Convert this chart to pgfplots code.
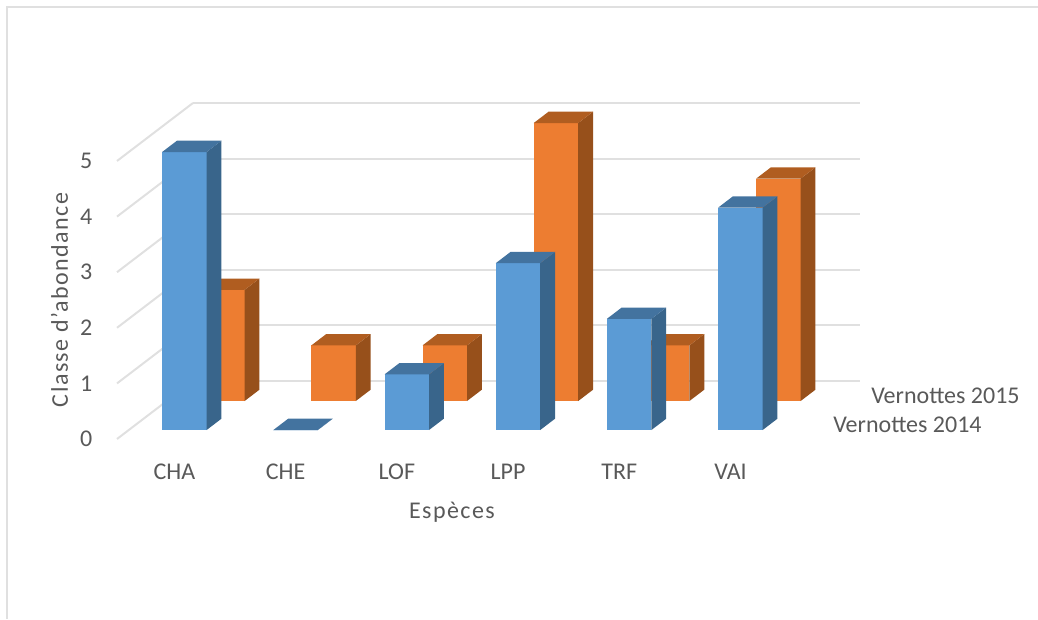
\documentclass[border=0pt]{standalone}
\usepackage{pgfplots}
\pgfplotsset{compat=1.18}
\usepackage{fontspec}
\setmainfont{Carlito}
\definecolor{txt}{HTML}{595959}
\definecolor{gridc}{HTML}{E0E0E0}
\definecolor{frontA}{HTML}{5B9BD5}
\definecolor{sideA}{HTML}{39658B}
\definecolor{topA}{HTML}{43739F}
\definecolor{frontB}{HTML}{ED7D31}
\definecolor{sideB}{HTML}{97501B}
\definecolor{topB}{HTML}{B05D20}

% One box: category index, value, front of row, colours front/side/top
\newcommand{\boxbar}[6]{%
  \pgfmathsetmacro\xa{#1+0.3}\pgfmathsetmacro\xb{#1+0.7}%
  \pgfmathsetmacro\ya{#3}\pgfmathsetmacro\yb{#3+0.195}%
  \edef\temp{%
    \noexpand\addplot3[draw=none,fill=#4,forget plot] coordinates
      {(\xa,\ya,0) (\xb,\ya,0) (\xb,\ya,#2) (\xa,\ya,#2)};
    \noexpand\addplot3[draw=none,fill=#5,forget plot] coordinates
      {(\xb,\ya,0) (\xb,\yb,0) (\xb,\yb,#2) (\xb,\ya,#2)};
    \noexpand\addplot3[draw=none,fill=#6,forget plot] coordinates
      {(\xa,\ya,#2) (\xb,\ya,#2) (\xb,\yb,#2) (\xa,\yb,#2)};
  }\temp}
\newcommand{\barA}[2]{\boxbar{#1}{#2}{0.155}{frontA}{sideA}{topA}}
\newcommand{\barB}[2]{\boxbar{#1}{#2}{0.655}{frontB}{sideB}{topB}}

\begin{document}
\begin{tikzpicture}[x=1pt,y=1pt]
\path[use as bounding box] (0,0) rectangle (778.5,464.25);
\draw[gridc,line width=1.5pt] (4.9,0) -- (4.9,459) -- (778.5,459);
\begin{axis}[
  at={(87.75pt,135pt)}, anchor=origin,
  x={(83.4pt,0pt)}, y={(57pt,43.5pt)}, z={(0pt,41.7pt)},
  xmin=0, xmax=6, ymin=0, ymax=1, zmin=0, zmax=5,
  clip=false,
  axis line style={draw=none},
  major tick length=0pt,
  zmajorgrids,
  major grid style={gridc,line width=1.5pt},
  xtick={0.5,1.5,2.5,3.5,4.5,5.5},
  xticklabels={CHA,CHE,LOF,LPP,TRF,VAI},
  ytick={0.25,0.75},
  yticklabels={Vernottes 2014,Vernottes 2015},
  ztick={0,1,2,3,4,5},
  zticklabels={0,1,2,3,4,5},
  /pgf/number format/assume math mode=true,
  ticklabel style={font=\fontsize{18}{20}\selectfont, text=txt},
  x tick label style={xshift=6pt,yshift=-15pt},
  xticklabel pos=lower,
  yticklabel pos=lower,
  y tick label style={anchor=west,xshift=19pt,yshift=0pt},
  z tick label style={anchor=east,xshift=-15pt},
  zticklabel pos=left,
  xlabel={Espèces},
  zlabel={Classe d'abondance},
  label style={font=\fontsize{18}{20}\selectfont\addfontfeature{LetterSpace=6}, text=txt},
  xlabel style={at={(rel axis cs:0.502,0,-0.264)},anchor=center},
  zlabel style={at={(rel axis cs:-0.086,0,0.5)},anchor=center,rotate=0},
]
% rear row, then front row
\barB{0}{2}
\barB{1}{1}
\barB{2}{1}
\barB{3}{5}
\barB{4}{1}
\barB{5}{4}
\barA{0}{5}
\barA{1}{0}
\barA{2}{1}
\barA{3}{3}
\barA{4}{2}
\barA{5}{4}
\end{axis}
\end{tikzpicture}
\end{document}
